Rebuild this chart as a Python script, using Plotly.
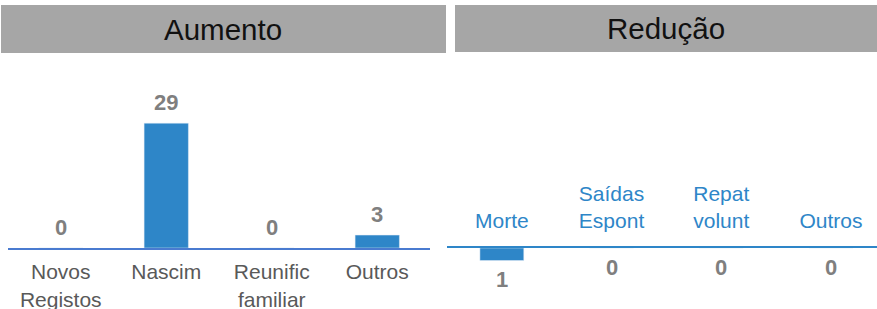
import plotly.graph_objects as go

# ---- data ----
aum_cats = ["Novos<br>Registos", "Nascim", "Reunific<br>familiar", "Outros"]
aum_vals = [0, 29, 0, 3]
red_cats = ["Morte", "Saídas<br>Espont", "Repat<br>volunt", "Outros"]
red_vals = [-1, 0, 0, 0]
red_labels = ["1", "0", "0", "0"]
titles = ["Aumento", "Redução"]

W, H = 877, 309
BAR = "#2e86c8"
FONT = "Arial, Liberation Sans, sans-serif"

def px(x):
    return x / W

def py(y):
    return (H - y) / H

fig = go.Figure()
fig.add_trace(go.Bar(x=list(range(4)), y=aum_vals, marker_color=BAR, width=0.42,
                     xaxis="x", yaxis="y", hoverinfo="skip"))
fig.add_trace(go.Bar(x=list(range(4)), y=red_vals, marker_color=BAR, width=0.40,
                     xaxis="x2", yaxis="y2", hoverinfo="skip"))

annotations = []
for i, v in enumerate(aum_vals):
    annotations.append(dict(x=i, y=v, xref="x", yref="y", text=str(v), showarrow=False,
                            yanchor="middle", yshift=21,
                            font=dict(family=FONT, size=22, color="#7f7f7f", weight="bold")))
for i, (v, t) in enumerate(zip(red_vals, red_labels)):
    annotations.append(dict(x=i, y=v, xref="x2", yref="y2", text=t, showarrow=False,
                            yanchor="middle", yshift=-19,
                            font=dict(family=FONT, size=22, color="#7f7f7f", weight="bold")))

# header boxes
shapes = [
    dict(type="rect", xref="paper", yref="paper", x0=px(1), x1=px(446), y0=py(53), y1=py(5),
         fillcolor="#a6a6a6", line_width=0, layer="below"),
    dict(type="rect", xref="paper", yref="paper", x0=px(455), x1=px(877), y0=py(52), y1=py(5),
         fillcolor="#a6a6a6", line_width=0, layer="below"),
]
annotations.append(dict(x=(px(1) + px(446)) / 2, y=(py(53) + py(5)) / 2, xref="paper", yref="paper",
                        text=titles[0], showarrow=False, xanchor="center", yanchor="middle",
                        font=dict(family=FONT, size=29.5, color="#111111")))
annotations.append(dict(x=(px(455) + px(877)) / 2, y=(py(52) + py(5)) / 2, xref="paper", yref="paper",
                        text=titles[1], showarrow=False, xanchor="center", yanchor="middle",
                        font=dict(family=FONT, size=29.5, color="#111111")))

fig.update_layout(
    width=W, height=H, autosize=False,
    margin=dict(l=0, r=0, t=0, b=0, autoexpand=False),
    paper_bgcolor="white", plot_bgcolor="rgba(0,0,0,0)",
    showlegend=False, bargap=0,
    shapes=shapes, annotations=annotations,
    xaxis=dict(domain=[px(8), px(430)], range=[-0.5, 3.5], tickmode="array",
               tickvals=list(range(4)), ticktext=aum_cats, showline=True,
               linecolor="#4a7bd0", linewidth=2, showgrid=False, zeroline=False,
               ticks="", tickfont=dict(family=FONT, size=21, color="#595959"),
               ticklabelstandoff=4, automargin=False, fixedrange=True),
    yaxis=dict(domain=[py(248), py(62)], range=[0, 43.2], visible=False,
               automargin=False, fixedrange=True),
    xaxis2=dict(domain=[px(447), 1], range=[-0.5, 3.42], side="top", anchor="y2",
                tickmode="array", tickvals=list(range(4)), ticktext=red_cats,
                showline=True, linecolor=BAR, linewidth=2.5, showgrid=False, zeroline=False,
                ticks="", tickfont=dict(family=FONT, size=21, color=BAR),
                ticklabelstandoff=9, automargin=False, fixedrange=True),
    yaxis2=dict(domain=[0, py(248)], range=[-4.88, 0], visible=False, anchor="x2",
                automargin=False, fixedrange=True),
)

fig.write_html(
    "out.html",
    config={"displayModeBar": False, "responsive": False, "staticPlot": True},
    post_script=(
        "document.documentElement.style.overflow='hidden';"
        "document.body.style.margin='0';document.body.style.overflow='hidden';"
    ),
)
